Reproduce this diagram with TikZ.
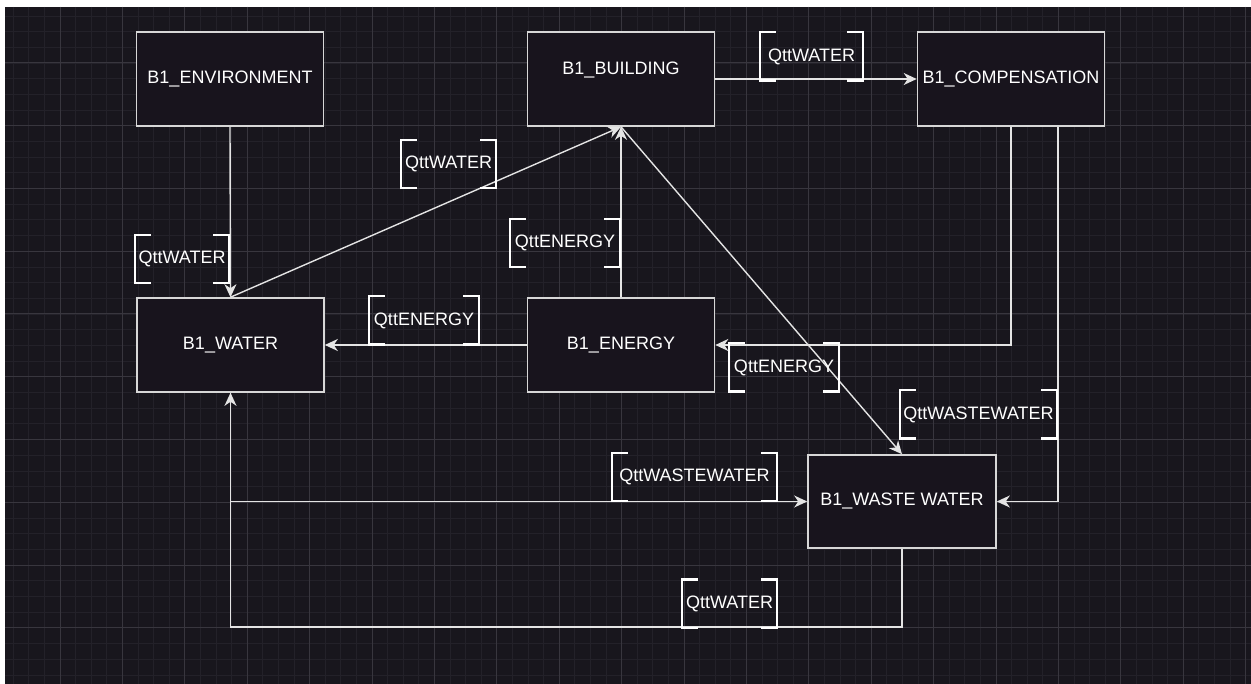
\documentclass[tikz,border=0pt]{standalone}
\usepackage{fontspec}
\setmainfont{Liberation Sans}
\usetikzlibrary{arrows.meta}
\definecolor{bgdark}{RGB}{24,22,29}
\definecolor{gridminor}{RGB}{35,33,41}
\definecolor{gridmajor}{RGB}{56,54,62}
\definecolor{boxfill}{RGB}{24,20,29}
\definecolor{boxline}{RGB}{215,215,215}
\definecolor{wireline}{RGB}{228,228,228}
\begin{document}
\begin{tikzpicture}[x=1pt,y=-1pt,
  blk/.style={draw=boxline, line width=1.6pt, fill=boxfill, minimum width=187pt, minimum height=94pt, inner sep=0pt, text=white, font=\fontsize{18}{20}\selectfont},
  lbl/.style={inner sep=0pt, minimum height=48pt, text=white, font=\fontsize{18}{20}\selectfont},
  wire/.style={draw=wireline, line width=1.4pt, -{Stealth[length=13pt,width=12pt,inset=4pt]}},
  brk/.style={draw=white, line width=2.4pt}
]
\useasboundingbox (0,0) rectangle (1251,684);
\fill[white] (0,0) rectangle (1251,684);
\fill[bgdark] (5,7) rectangle (1251,684);
% grid
\foreach \i in {-3,...,76} {\draw[gridminor, line width=0.8pt] ({60+15.6*\i},7) -- ({60+15.6*\i},684);}
\foreach \j in {-3,...,39} {\draw[gridminor, line width=0.8pt] (5,{63+15.69*\j}) -- (1251,{63+15.69*\j});}
\foreach \i in {0,...,19} {\draw[gridmajor, line width=1pt] ({60+62.4*\i},7) -- ({60+62.4*\i},684);}
\foreach \j in {0,...,9} {\draw[gridmajor, line width=1pt] (5,{63+62.75*\j}) -- (1251,{63+62.75*\j});}

% blocks
\node[blk] (env) at (230,79) {B1\_ENVIRONMENT};
\node[blk] (bld) at (621,79) {\smash{\raisebox{4pt}{B1\_BUILDING}}};
\node[blk] (comp) at (1011,79) {B1\_COMPENSATION};
\node[blk] (wat) at (230.5,345) {B1\_WATER};
\node[blk] (ene) at (621,345) {B1\_ENERGY};
\node[blk, minimum width=188pt, minimum height=93pt] (ww) at (902,501.5) {B1\_WASTE WATER};

\coordinate (c9) at (902,627);

% connectors
\draw[wire] (env.south) -- (wat.north);
\draw[wire] (wat.north) -- (bld.south);
\draw[wire] (ene.north) -- (bld.south);
\draw[wire] (bld.east) -- (comp.west);
\draw[wire] (comp.south) |- (ene.east);
\draw[wire] ([xshift=47pt]comp.south) |- (ww.east);
\draw[wire] (bld.south) -- (ww.north);
\draw[wire] (ene.west) -- (wat.east);
\draw[wire] (wat.south) |- (ww.west);
\draw[wire] (ww.south) -- (c9) -| (wat.south);

% labels
\node[lbl, minimum width=94pt] (l1) at (182,259) {QttWATER};
\node[lbl, minimum width=95pt] (l2) at (448.5,164) {QttWATER};
\node[lbl, minimum width=110pt] (l3) at (565,243) {QttENERGY};
\node[lbl, minimum width=103pt] (l4) at (811.5,56.5) {QttWATER};
\node[lbl, minimum width=110pt] (l5) at (784,367.5) {QttENERGY};
\node[lbl, minimum width=157pt] (l6) at (978.5,414.5) {QttWASTEWATER};
\node[lbl, minimum width=165pt] (l7) at (694.5,477) {QttWASTEWATER};
\node[lbl, minimum width=95pt] (l8) at (729.5,603.5) {QttWATER};
\node[lbl, minimum width=110pt] (l9) at (424,320.5) {QttENERGY};

\foreach \n in {l1,l2,l3,l4,l5,l6,l7,l8,l9} {
  \draw[brk] ([xshift=16pt]\n.north west) -- (\n.north west) -- (\n.south west) -- ([xshift=16pt]\n.south west);
  \draw[brk] ([xshift=-16pt]\n.north east) -- (\n.north east) -- (\n.south east) -- ([xshift=-16pt]\n.south east);
}
\end{tikzpicture}
\end{document}
